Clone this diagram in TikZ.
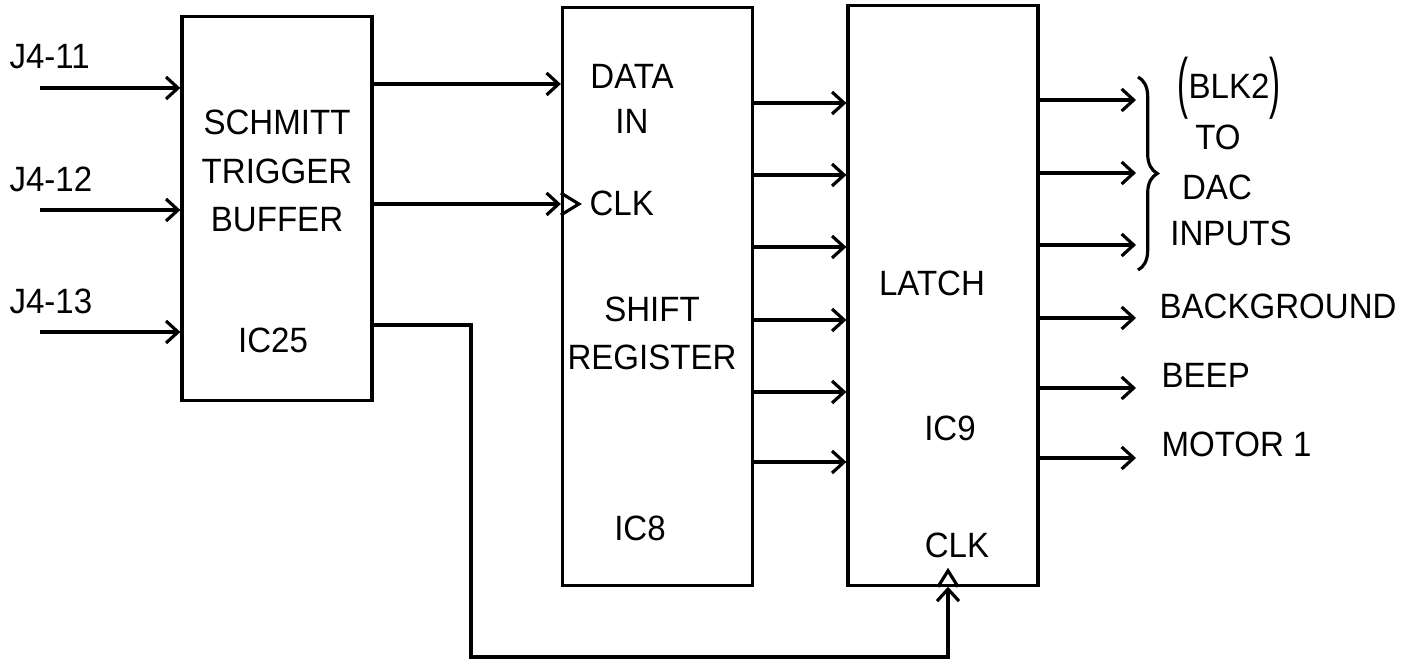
\documentclass[tikz,border=0pt]{standalone}
\usepackage{graphicx}
\usepackage{fontspec}
\setmainfont{Liberation Sans}[FakeStretch=0.94]
\usetikzlibrary{arrows.meta,decorations.pathreplacing}

\begin{document}
\begin{tikzpicture}[x=0.01cm,y=-0.01cm,line width=0.9pt,
    every node/.style={font=\fontsize{10}{13.7}\selectfont,inner sep=0pt},
    blk/.style={draw,minimum width=1.9cm},
    sig/.style={-{Straight Barb[length=1.2mm,width=2.2mm]}}]
  \useasboundingbox (0,0) rectangle (1413,665);

  %% Blocks
  \node[blk,minimum height=3.83cm] (trig)  at (277,208.5) {};
  \node[blk,minimum height=5.77cm] (shreg) at (657.5,296.5) {};
  \node[blk,minimum height=5.79cm] (latch) at (943,295.5) {};

  %% Block texts
  \node[align=center] (trigtxt) at (277,171) {SCHMITT\\TRIGGER\\BUFFER};
  \node (ic25) at (273,340) {IC25};
  \node[align=center] (datain) at (632,99) {DATA\\[-1pt]IN};
  \node[anchor=west] (sclk) at (588,203) {CLK};
  \node[align=center] (shtxt) at (652,333) {SHIFT\\REGISTER};
  \node (ic8) at (640,528) {IC8};
  \node (latchtxt) at (932,283) {LATCH};
  \node (ic9) at (950,428) {IC9};
  \node (lclktxt) at (957,545) {CLK};

  %% Inputs
  \foreach \y/\pin [count=\i] in {88/J4-11,210/J4-12,332/J4-13}{
    \coordinate (in\i) at (40,\y);
    \draw[sig] (in\i) -- (in\i -| trig.west);
    \node[anchor=west] (pin\i) at (8,\y-31) {\pin};
  }

  %% Schmitt trigger outputs
  \coordinate (din) at (shreg.west |- 0,84);
  \draw[sig] (trig.east |- din) -- (din);
  \coordinate (sclkin) at (shreg.west |- 0,204);
  \draw[sig] (trig.east |- sclkin) -- (sclkin);
  \draw (sclkin) ++(0,-11) -- ++(18,11) -- ++(-18,11);

  %% IC25 to latch clock
  \coordinate (lclk) at (latch.south -| 948,0);
  \coordinate (ret) at (471,657);
  \draw[sig] (trig.east |- 0,325) -| (ret) -| (lclk);
  \draw (lclk) ++(-10,0) -- ++(10,-16) -- ++(10,16);

  %% Register to latch
  \foreach \y in {103,175,247,320,392,462}
    \draw[sig] (shreg.east |- 0,\y) -- (latch.west |- 0,\y);

  %% Latch outputs
  \foreach \y [count=\i] in {100,173,245,318,388,458}{
    \coordinate (out\i) at (1136,\y);
    \draw[sig] (latch.east |- out\i) -- (out\i);
  }

  %% DAC brace and labels
  \draw[decorate,decoration={brace,amplitude=5.5pt}] (1138,77) -- (1138,270);
  \node (blk) at (1229,88) {\raisebox{-0.2em}{\scalebox{1}[1.9]{(}}BLK2\raisebox{-0.2em}{\scalebox{1}[1.9]{)}}};
  \node (to) at (1218,137) {TO};
  \node (dac) at (1217,187) {DAC};
  \node (inps) at (1231,233) {INPUTS};
  \node[anchor=west] (bg) at (1158,306) {BACKGROUND};
  \node[anchor=west] (beep) at (1160,375) {BEEP};
  \node[anchor=west] (mot) at (1160,444) {MOTOR 1};
\end{tikzpicture}
\end{document}
